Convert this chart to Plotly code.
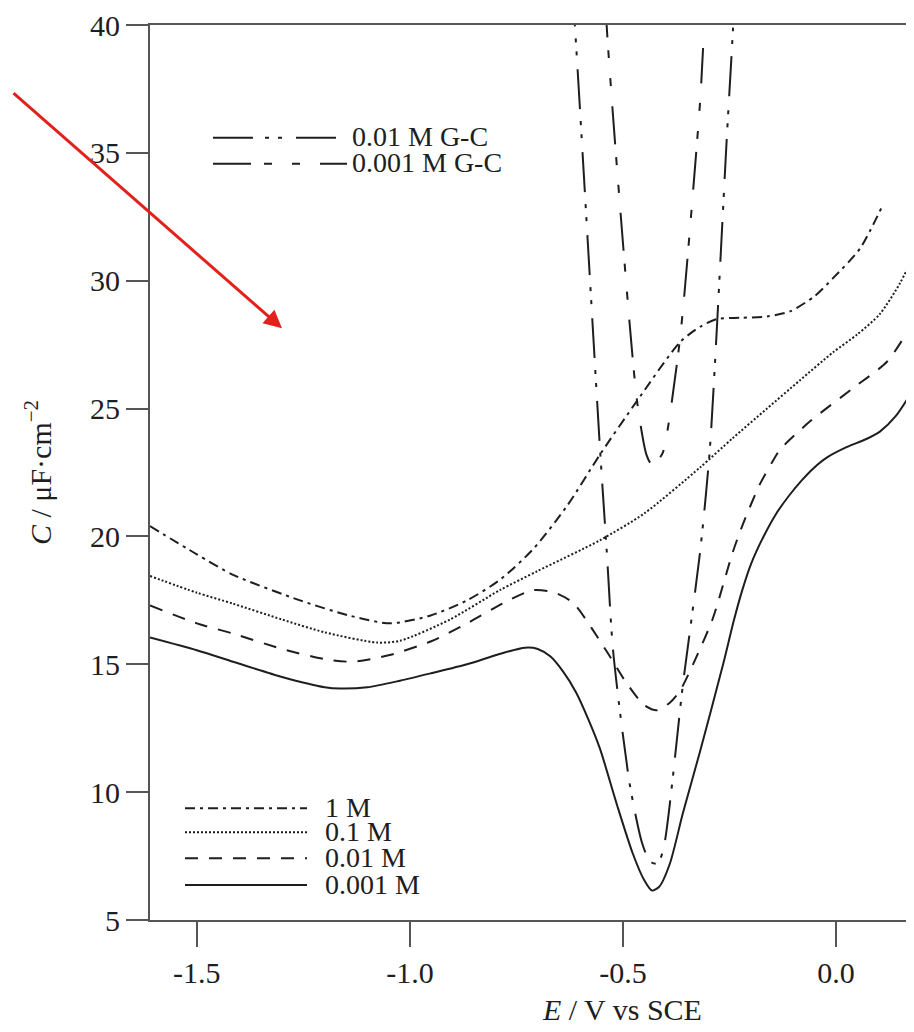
import plotly.graph_objects as go

# ---------------- data ----------------
E_1M = [-1.61, -1.50, -1.415, -1.258, -1.141, -1.047, -0.953, -0.866, -0.789, -0.711, -0.631,
        -0.554, -0.467, -0.366, -0.319, -0.279, -0.225, -0.162, -0.108, -0.05, -0.007, 0.056, 0.108]
C_1M = [20.4, 19.3, 18.5, 17.5, 16.9, 16.6, 16.9, 17.5, 18.3, 19.5, 21.2,
        23.2, 25.3, 27.6, 28.2, 28.5, 28.55, 28.6, 28.8, 29.4, 30.1, 31.25, 32.9]

E_01M = [-1.61, -1.50, -1.415, -1.30, -1.20, -1.077, -1.023, -0.906, -0.789, -0.70, -0.554, -0.45,
         -0.319, -0.242, -0.162, -0.085, -0.007, 0.05, 0.103, 0.15, 0.183, 0.20]
C_01M = [18.45, 17.8, 17.37, 16.75, 16.25, 15.85, 15.92, 16.75, 17.9, 18.65, 19.85, 20.9,
         22.7, 23.85, 25.0, 26.1, 27.2, 27.9, 28.7, 29.9, 31.0, 31.6]

E_001M = [-1.61, -1.50, -1.415, -1.30, -1.20, -1.134, -1.05, -0.95, -0.866, -0.78, -0.711, -0.66,
          -0.617, -0.538, -0.491, -0.45, -0.42, -0.39, -0.366, -0.33, -0.289, -0.242, -0.218,
          -0.18, -0.15, -0.131, -0.061, 0.04, 0.12, 0.183, 0.20]
C_001M = [17.3, 16.6, 16.2, 15.6, 15.2, 15.1, 15.35, 15.9, 16.6, 17.4, 17.9, 17.8,
          17.4, 15.5, 14.25, 13.4, 13.2, 13.5, 13.97, 15.2, 16.8, 19.4, 20.5,
          22.0, 22.9, 23.4, 24.5, 25.8, 26.84, 28.4, 28.8]

E_0001M = [-1.61, -1.50, -1.415, -1.30, -1.20, -1.164, -1.10, -1.023, -0.95, -0.866, -0.79, -0.73,
           -0.70, -0.67, -0.64, -0.61, -0.58, -0.554, -0.514, -0.477, -0.45, -0.432, -0.415, -0.39,
           -0.359, -0.319, -0.265, -0.24, -0.22, -0.20, -0.17, -0.14, -0.11, -0.08, -0.054,
           -0.02, 0.026, 0.07, 0.103, 0.14, 0.183, 0.20]
C_0001M = [16.05, 15.55, 15.1, 14.5, 14.1, 14.05, 14.1, 14.36, 14.65, 15.0, 15.4, 15.65,
           15.6, 15.3, 14.7, 13.9, 12.8, 11.7, 9.5, 7.6, 6.55, 6.15, 6.3, 7.2,
           9.2, 11.6, 15.0, 16.7, 17.9, 18.9, 20.0, 20.9, 21.6, 22.2, 22.65,
           23.1, 23.5, 23.8, 24.1, 24.7, 25.8, 26.4]

E_001M_GC = [-0.62, -0.613, -0.554, -0.538, -0.523, -0.484, -0.455, -0.437, -0.42, -0.406,
             -0.359, -0.319, -0.296, -0.256, -0.242, -0.238]
C_001M_GC = [41.5, 40.0, 23.45, 19.4, 15.5, 10.3, 8.0, 7.3, 7.2, 7.7,
             14.25, 19.4, 23.45, 35.7, 39.8, 41.5]

E_0001M_GC = [-0.541, -0.538, -0.514, -0.467, -0.445, -0.434, -0.42, -0.406, -0.373, -0.359,
              -0.319, -0.312]
C_0001M_GC = [41.0, 39.9, 34.4, 25.3, 23.2, 22.85, 22.95, 23.3, 26.8, 28.9,
              37.0, 39.1]

NAMES = ["1 M", "0.1 M", "0.01 M", "0.001 M", "0.01 M G-C", "0.001 M G-C"]

X_TICKS = [-1.5, -1.0, -0.5, 0.0]
X_TICK_LABELS = ["-1.5", "-1.0", "-0.5", "0.0"]
Y_TICKS = [5, 10, 15, 20, 25, 30, 35, 40]
Y_TICK_LABELS = ["5", "10", "15", "20", "25", "30", "35", "40"]

X_TITLE = "<i>E</i> / V vs SCE"
Y_TITLE = "<i>C</i> / μF·cm<sup>−2</sup>"

# ---------------- styling / geometry ----------------
PAGE_W, PAGE_H = 914, 1032
BODY = 8                      # default page margin around the plot div
W, H = PAGE_W - BODY, PAGE_H - BODY
PLOT_L, PLOT_T, PLOT_B = 150, 23, 920     # plot-area edges in page pixels
ML, MT, MR = PLOT_L - BODY, PLOT_T - BODY, 0
MB = H - MT - (PLOT_B - PLOT_T)
FONT = "Liberation Serif"
INK = "#1e1e1e"
AXIS = "#555555"

DASHES = {
    "1 M": "10px,5px,3px,5px",
    "0.1 M": "2px,2px",
    "0.01 M": "13px,11px",
    "0.001 M": "solid",
    "0.01 M G-C": "40px,12px,4px,9px,4px,14px",
    "0.001 M G-C": "38px,13px,8px,20px,8px,20px",
}

series = [
    (NAMES[0], E_1M, C_1M),
    (NAMES[1], E_01M, C_01M),
    (NAMES[2], E_001M, C_001M),
    (NAMES[3], E_0001M, C_0001M),
    (NAMES[4], E_001M_GC, C_001M_GC),
    (NAMES[5], E_0001M_GC, C_0001M_GC),
]

fig = go.Figure()
for name, xs, ys in series:
    fig.add_trace(go.Scatter(
        x=xs, y=ys, name=name, mode="lines",
        line=dict(color=INK, width=2, dash=DASHES[name], shape="spline", smoothing=0.7),
        showlegend=False, hoverinfo="skip",
    ))


def px(x):
    """page x pixel -> paper coordinate"""
    return (x - PLOT_L) / (PAGE_W - PLOT_L)


def py(y):
    """page y pixel -> paper coordinate"""
    return (PLOT_B - y) / (PLOT_B - PLOT_T)


shapes = []
annotations = []

# legend blocks (key lines + labels)
legend_blocks = [
    ([NAMES[4], NAMES[5]], 213, 347, 350, [136, 162]),
    ([NAMES[0], NAMES[1], NAMES[2], NAMES[3]], 185, 307, 323, [808, 832, 858, 885]),
]
for names, x0, x1, xt, rows in legend_blocks:
    for name, yr in zip(names, rows):
        shapes.append(dict(type="line", xref="paper", yref="paper",
                           x0=px(x0), x1=px(x1), y0=py(yr), y1=py(yr),
                           line=dict(color=INK, width=2, dash=DASHES[name])))
        annotations.append(dict(xref="paper", yref="paper", x=px(xt), y=py(yr - 1),
                                text=name, showarrow=False, xanchor="left", yanchor="middle",
                                font=dict(family=FONT, size=28, color=INK)))

# x-axis title (the visible frame is cropped on the right)
annotations.append(dict(xref="paper", yref="paper", x=px(622), y=py(1010),
                        text=X_TITLE, showarrow=False, xanchor="center", yanchor="middle",
                        font=dict(family=FONT, size=30, color=INK)))

# red arrow overlay
annotations.append(dict(xref="paper", yref="paper", x=px(282), y=py(327),
                        ax=-282, ay=-240, text=" ", showarrow=True,
                        arrowcolor="#e3211c", arrowwidth=3, arrowhead=2, arrowsize=1.2,
                        standoff=0, startstandoff=0))

fig.update_layout(
    width=W, height=H,
    margin=dict(l=ML, r=MR, t=MT, b=MB),
    paper_bgcolor="white", plot_bgcolor="white",
    font=dict(family=FONT, size=30, color=INK),
    shapes=shapes, annotations=annotations,
    showlegend=False,
)
fig.update_xaxes(
    range=[-1.61, 0.183], tickvals=X_TICKS, ticktext=X_TICK_LABELS,
    showline=True, linecolor=AXIS, linewidth=2, mirror=True,
    ticks="outside", ticklen=25, tickwidth=2, tickcolor=AXIS,
    showgrid=False, zeroline=False, tickfont=dict(family=FONT, size=30, color=INK),
    ticklabeloverflow="allow",
)
fig.update_yaxes(
    range=[5, 40], tickvals=Y_TICKS, ticktext=Y_TICK_LABELS,
    showline=True, linecolor=AXIS, linewidth=2,
    ticks="outside", ticklen=22, tickwidth=2, tickcolor=AXIS,
    showgrid=False, zeroline=False, tickfont=dict(family=FONT, size=30, color=INK),
    ticklabeloverflow="allow",
    title=dict(text=Y_TITLE, font=dict(family=FONT, size=30, color=INK), standoff=30),
)

fig.write_html("out.html")
